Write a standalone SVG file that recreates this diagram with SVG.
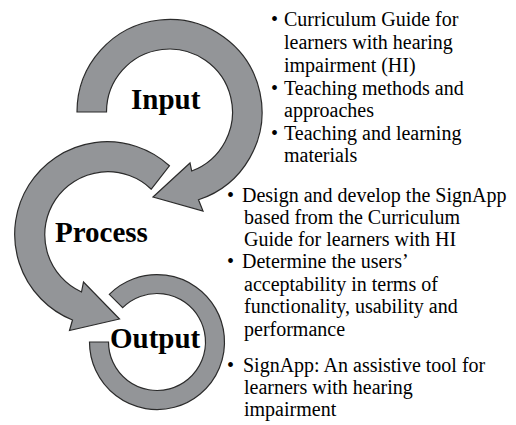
<svg xmlns="http://www.w3.org/2000/svg" width="516" height="425" viewBox="0 0 516 425">
  <style>
    .arc { fill: #939598; stroke: #2b2b2b; stroke-width: 1.2; stroke-linejoin: miter; }
    .stage { font-family: "Liberation Serif", "Times New Roman", serif; font-weight: bold; font-size: 29px; fill: #000; }
    .item { font-family: "Liberation Serif", "Times New Roman", serif; font-size: 20px; fill: #000; }
  </style>
  <rect width="516" height="425" fill="#fff"/>

  <!-- curved block arrows linking the three stages -->
  <g id="connectors">
    <path id="arrow-input" class="arc" d="M 77 112 A 92.5 92.5 0 1 1 198.5 199.8 L 203 211 L 153 197 L 190 163 L 191.7 171 A 63 63 0 1 0 106.5 112 Z"/>
    <path id="arrow-process" class="arc" d="M 169.4 165.8 A 92.5 92.5 0 1 0 72.5 320 L 69.5 330.5 L 119.5 319 L 83.5 282 L 81.5 292 A 63 63 0 1 1 151.3 189.2 Z"/>
    <path id="ring-output" class="arc" d="M 109.3 294.3 A 67.5 67.5 0 1 1 89.5 342 L 108.5 342 A 48.5 48.5 0 1 0 122.7 307.7 Z"/>
  </g>

  <g id="input">
    <text class="stage" x="131" y="109">Input</text>
    <g class="item">
      <text x="271" y="26">•</text>
      <text x="284" y="26">Curriculum Guide for</text>
      <text x="284" y="49">learners with hearing</text>
      <text x="284" y="72">impairment (HI)</text>
      <text x="271" y="95">•</text>
      <text x="284" y="95">Teaching methods and</text>
      <text x="284" y="117">approaches</text>
      <text x="271" y="140">•</text>
      <text x="284" y="140">Teaching and learning</text>
      <text x="284" y="162">materials</text>
    </g>
  </g>

  <g id="process">
    <text class="stage" x="55" y="242">Process</text>
    <g class="item">
      <text x="227" y="202">•</text>
      <text x="242" y="202">Design and develop the SignApp</text>
      <text x="244" y="224">based from the Curriculum</text>
      <text x="244" y="246">Guide for learners with HI</text>
      <text x="227" y="268">•</text>
      <text x="242" y="268">Determine the users’</text>
      <text x="244" y="291">acceptability in terms of</text>
      <text x="244" y="313">functionality, usability and</text>
      <text x="244" y="336">performance</text>
    </g>
  </g>

  <g id="output">
    <text class="stage" x="110" y="348">Output</text>
    <g class="item">
      <text x="227" y="372">•</text>
      <text x="243" y="372">SignApp: An assistive tool for</text>
      <text x="244" y="394">learners with hearing</text>
      <text x="244" y="416">impairment</text>
    </g>
  </g>
</svg>
